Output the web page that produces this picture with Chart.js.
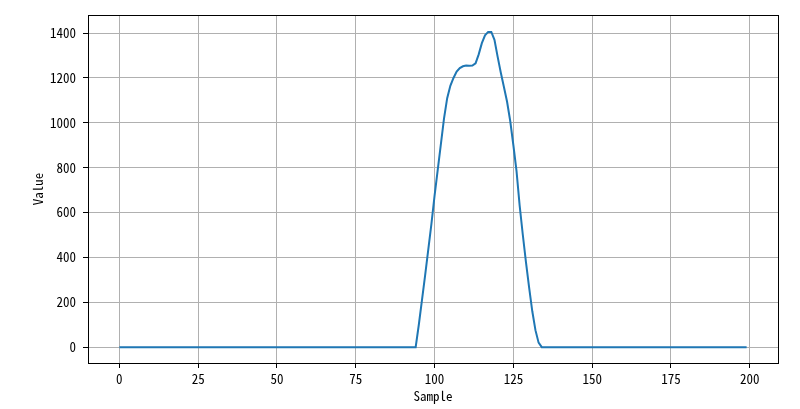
<!DOCTYPE html>
<html>
<head>
<meta charset="utf-8">
<script src="https://cdn.jsdelivr.net/npm/chart.js@4"></script>
<style>
  body { margin: 0; background: #fff; }
  #myChart { display: block; }
</style>
</head>
<body>
<canvas id="myChart" width="800" height="409"></canvas>
<script>
// signal values, sample 0..199
const values = [
    0, 0, 0, 0, 0, 0, 0, 0, 0, 0, 0, 0, 0, 0, 0, 0, 0, 0, 0, 0,
    0, 0, 0, 0, 0, 0, 0, 0, 0, 0, 0, 0, 0, 0, 0, 0, 0, 0, 0, 0,
    0, 0, 0, 0, 0, 0, 0, 0, 0, 0, 0, 0, 0, 0, 0, 0, 0, 0, 0, 0,
    0, 0, 0, 0, 0, 0, 0, 0, 0, 0, 0, 0, 0, 0, 0, 0, 0, 0, 0, 0,
    0, 0, 0, 0, 0, 0, 0, 0, 0, 0, 0, 0, 0, 0,
    0, 100, 210, 320, 435, 550, 675, 790, 905, 1020,            // 94-103
    1110, 1165, 1200, 1228, 1244, 1252, 1255, 1254, 1255, 1265, // 104-113
    1305, 1355, 1390, 1405, 1405, 1370, 1295, 1224, 1160, 1094, // 114-123
    1008, 900, 785, 630, 500, 378, 265, 160, 76, 20,            // 124-133
    0,
    0, 0, 0, 0, 0, 0, 0, 0, 0, 0, 0, 0, 0, 0, 0, 0, 0, 0, 0, 0,
    0, 0, 0, 0, 0, 0, 0, 0, 0, 0, 0, 0, 0, 0, 0, 0, 0, 0, 0, 0,
    0, 0, 0, 0, 0, 0, 0, 0, 0, 0, 0, 0, 0, 0, 0, 0, 0, 0, 0, 0,
    0, 0, 0, 0, 0
];
const samples = values.map((v, i) => i);
const xTicks = [0, 25, 50, 75, 100, 125, 150, 175, 200];
const yTicks = [0, 200, 400, 600, 800, 1000, 1200, 1400];

const FONT = '"Noto Sans Mono CJK SC", "DejaVu Sans Mono", monospace';

// box around plot area (matplotlib spines)
const frame = {
    id: 'frame',
    afterDraw(chart) {
        const { ctx, chartArea: a } = chart;
        ctx.save();
        ctx.strokeStyle = '#000';
        ctx.lineWidth = 1;
        ctx.strokeRect(Math.round(a.left) + 0.5, Math.round(a.top) + 0.5,
            Math.round(a.right - a.left), Math.round(a.bottom - a.top));
        ctx.restore();
    }
};

const ctx = document.getElementById('myChart').getContext('2d');
new Chart(ctx, {
    type: 'line',
    data: {
        datasets: [{
            data: samples.map((s, i) => ({ x: s, y: values[i] })),
            borderColor: '#1f77b4',
            borderWidth: 2,
            pointRadius: 0,
            tension: 0,
            fill: false
        }]
    },
    options: {
        responsive: false,
        animation: false,
        layout: { padding: { top: 15, right: 22, left: 0, bottom: 0 } },
        plugins: {
            legend: { display: false },
            tooltip: { enabled: false }
        },
        scales: {
            x: {
                type: 'linear',
                min: -9.95,
                max: 208.95,
                afterBuildTicks: (scale) => { scale.ticks = xTicks.map(v => ({ value: v })); },
                afterFit: (scale) => { scale.height = 46; },
                grid: { color: '#b0b0b0', lineWidth: 1, tickColor: '#000', tickLength: 5 },
                border: { color: '#000', width: 1 },
                ticks: {
                    color: '#000', font: { family: FONT, size: 13 }, padding: 3, maxRotation: 0,
                    callback: (v) => String(v)
                },
                title: { display: true, text: 'Sample', color: '#000', font: { family: FONT, size: 13 }, padding: { top: 0, bottom: 5 } }
            },
            y: {
                min: -70.5,
                max: 1480.5,
                afterBuildTicks: (scale) => { scale.ticks = yTicks.map(v => ({ value: v })); },
                afterFit: (scale) => { scale.width = 88; },
                grid: { color: '#b0b0b0', lineWidth: 1, tickColor: '#000', tickLength: 5 },
                border: { color: '#000', width: 1 },
                ticks: {
                    color: '#000', font: { family: FONT, size: 13 }, padding: 7,
                    callback: (v) => String(v)
                },
                title: { display: true, text: 'Value', color: '#000', font: { family: FONT, size: 13 }, padding: { top: 30, bottom: 0 } }
            }
        }
    },
    plugins: [frame]
});
</script>
</body>
</html>
